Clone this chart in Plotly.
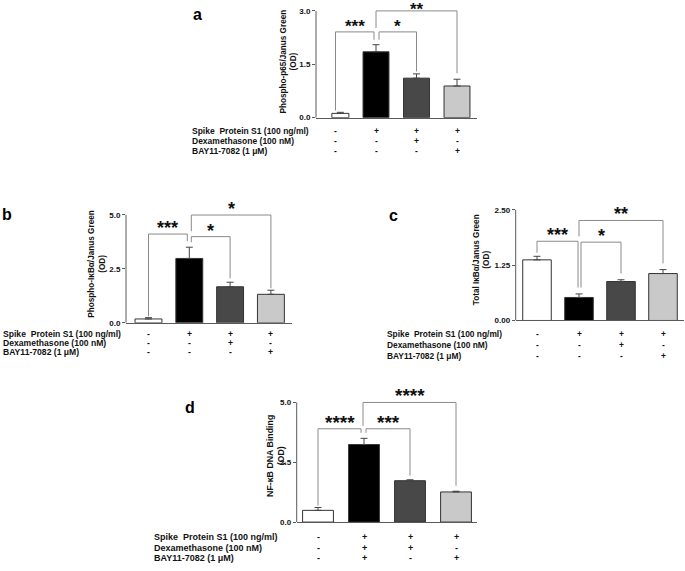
import plotly.graph_objects as go

W, H = 685, 571
FONT = "Liberation Sans, Arial, Helvetica, sans-serif"

# ---------------- data ----------------
groups = [0, 1, 2, 3]
row_labels = ["Spike\u00a0 Protein S1 (100 ng/ml)", "Dexamethasone (100 nM)", "BAY11-7082 (1 \u03bcM)"]

s1_signs = ["-", "+", "+", "+"]
dex_signs_abc = ["-", "-", "+", "-"]
bay_signs_abc = ["-", "-", "-", "+"]
dex_signs_d = ["-", "+", "+", "-"]
bay_signs_d = ["-", "+", "-", "+"]

a_mean = [0.12, 1.85, 1.11, 0.89]
a_sem = [0.03, 0.20, 0.12, 0.19]
b_mean = [0.18, 2.98, 1.67, 1.32]
b_sem = [0.06, 0.52, 0.21, 0.19]
c_mean = [1.37, 0.52, 0.88, 1.06]
c_sem = [0.08, 0.08, 0.04, 0.09]
d_mean = [0.49, 3.24, 1.73, 1.26]
d_sem = [0.12, 0.26, 0.04, 0.03]

a_ticks = [0, 1.5, 3.0]
a_ticktext = ["0.0", "1.5", "3.0"]
b_ticks = [0, 2.5, 5.0]
b_ticktext = ["0.0", "2.5", "5.0"]
c_ticks = [0, 1.25, 2.5]
c_ticktext = ["0.00", "1.25", "2.50"]
d_ticks = [0, 2.5, 5.0]
d_ticktext = ["0.0", "2.5", "5.0"]

# brackets: (i, j, level, leg_i_bottom, leg_j_bottom, label, dx_i_px, dx_j_px)
a_brackets = [(0, 1, 2.41, 0.20, 2.19, "***", 0, -2),
              (1, 2, 2.41, 2.19, 1.30, "*", 3, 0),
              (1, 3, 3.00, 2.52, 1.25, "**", 0, 0)]
b_brackets = [(0, 1, 4.11, 0.30, 3.78, "***", 0, -2),
              (1, 2, 3.99, 3.73, 2.06, "*", 2, 0),
              (1, 3, 4.99, 4.24, 1.60, "*", 2, 0)]
c_brackets = [(0, 1, 1.79, 1.53, 0.745, "***", 0, -1),
              (1, 2, 1.77, 0.745, 1.06, "*", 2, 0),
              (1, 3, 2.26, 1.90, 1.29, "**", 0, 0)]
d_brackets = [(0, 1, 3.90, 0.69, 3.73, "****", 0, -3),
              (1, 2, 3.90, 3.73, 1.94, "***", 2, 0),
              (1, 3, 5.00, 4.01, 1.52, "****", -1, 0)]

bar_colors = ["#ffffff", "#000000", "#484848", "#c9c9c9"]

panels = [
    dict(letter="a", mean=a_mean, sem=a_sem, ticks=a_ticks, ticktext=a_ticktext, br=a_brackets,
         dex=dex_signs_abc, bay=bay_signs_abc,
         ylabel="Phospho-p65/Janus Green<br>(OD)",
         ax0=316, ax1=477, y0=118.7, ytpx=11, c0=335.5, sp=40.5, domtop=0,
         widths=[0.42, 0.64, 0.64, 0.64], offsets=[-0.09, -0.32, -0.32, -0.32],
         lab=(197, 15), ylab=(289, 62), rowx=190, rows=[132, 142.7, 152.3], rowfs=8.5,
         ylfs=8.2, starfs=17),
    dict(letter="b", mean=b_mean, sem=b_sem, ticks=b_ticks, ticktext=b_ticktext, br=b_brackets,
         dex=dex_signs_abc, bay=bay_signs_abc,
         ylabel="Phospho-I\u03baB\u03b1/Janus Green<br>(OD)",
         ax0=126, ax1=291.7, y0=325.7, ytpx=216.7, c0=148.5, sp=40.8, domtop=195,
         widths=[0.66] * 4, offsets=[-0.33] * 4,
         lab=(7, 216), ylab=(97, 267), rowx=1, rows=[337, 346.5, 355.5], rowfs=8.6,
         ylfs=8.2, starfs=18),
    dict(letter="c", mean=c_mean, sem=c_sem, ticks=c_ticks, ticktext=c_ticktext, br=c_brackets,
         dex=dex_signs_abc, bay=bay_signs_abc,
         ylabel="Total I\u03baB\u03b1/Janus Green<br>(OD)",
         ax0=515.7, ax1=684, y0=323.3, ytpx=211.7, c0=537, sp=42, domtop=195,
         widths=[0.68] * 4, offsets=[-0.34] * 4,
         lab=(393, 217), ylab=(481.5, 262), rowx=385, rows=[336.7, 347.7, 359.3], rowfs=8.4,
         ylfs=8.2, starfs=18),
    dict(letter="d", mean=d_mean, sem=d_sem, ticks=d_ticks, ticktext=d_ticktext, br=d_brackets,
         dex=dex_signs_d, bay=bay_signs_d,
         ylabel="NF-\u03baB DNA Binding<br>(OD)",
         ax0=296.7, ax1=476.7, y0=526.7, ytpx=406, c0=318, sp=46, domtop=385,
         widths=[0.67] * 4, offsets=[-0.335] * 4,
         lab=(190, 411), ylab=(276, 460), rowx=151.7, rows=[541.7, 552.7, 563.3], rowfs=9.0,
         ylfs=8.8, starfs=19),
]

fig = go.Figure()
shapes = []
annotations = []
AXC = "#5a5a5a"
BRC = "#8a8a8a"


def px_x(v):
    return v / W


def px_y(v):
    return 1 - v / H


for k, p in enumerate(panels):
    sfx = "" if k == 0 else str(k + 1)
    xa, ya = "x" + sfx, "y" + sfx
    ytop = p["ticks"][-1]
    scale = (p["y0"] - p["ytpx"]) / ytop
    yr_top = (p["y0"] - p["domtop"]) / scale
    xr = [(p["ax0"] - p["c0"]) / p["sp"], (p["ax1"] - p["c0"]) / p["sp"]]

    fig.add_trace(go.Bar(
        x=groups, y=p["mean"], width=p["widths"], offset=p["offsets"],
        marker=dict(color=bar_colors, line=dict(color="#333333", width=1)),
        error_y=dict(type="data", array=p["sem"], arrayminus=[0] * 4, symmetric=False,
                     color="#444444", thickness=1, width=3.5),
        xaxis=xa, yaxis=ya, showlegend=False, hoverinfo="skip"))

    fig.layout["xaxis" + sfx] = dict(
        domain=[px_x(p["ax0"]), px_x(p["ax1"])], range=xr, anchor=ya,
        showline=True, linecolor=AXC, linewidth=1, showticklabels=False, ticks="",
        showgrid=False, zeroline=False, fixedrange=True)
    fig.layout["yaxis" + sfx] = dict(
        domain=[px_y(p["y0"]), px_y(p["domtop"])], range=[0, yr_top], anchor=xa,
        showline=False, ticks="outside", ticklen=3, tickwidth=1, tickcolor=AXC,
        tickvals=p["ticks"], ticktext=p["ticktext"],
        tickfont=dict(family=FONT, size=8, color="#111111", weight="bold"),
        showgrid=False, zeroline=False, fixedrange=True)

    # y axis line up to the top tick
    shapes.append(dict(type="line", xref=xa + " domain", yref=ya, x0=0, x1=0, y0=0, y1=ytop,
                       line=dict(color=AXC, width=1)))

    # significance brackets
    for (i, j, lvl, li, lj, lab, dxi, dxj) in p["br"]:
        xi = i + dxi / p["sp"]
        xj = j + dxj / p["sp"]
        shapes.append(dict(type="path", xref=xa, yref=ya,
                           path=f"M {xi},{li} L {xi},{lvl} L {xj},{lvl} L {xj},{lj}",
                           line=dict(color=BRC, width=1)))
        # keep the star text box inside the page
        line_px = p["y0"] - lvl * scale
        box_h = p["starfs"] * 1.15 + 2
        ysh = -6
        if line_px - ysh - box_h < 0:
            ysh = line_px - box_h
        annotations.append(dict(xref=xa, yref=ya, x=(xi + xj) / 2, y=lvl, text=lab,
                                showarrow=False, yanchor="bottom", xanchor="center", yshift=ysh,
                                font=dict(family=FONT, size=p["starfs"], color="#111111",
                                          weight="bold")))

    # panel letter
    annotations.append(dict(xref="paper", yref="paper", x=px_x(p["lab"][0]), y=px_y(p["lab"][1]),
                            text=p["letter"], showarrow=False, xanchor="center", yanchor="middle",
                            font=dict(family=FONT, size=16, color="#000000", weight="bold")))
    # y label
    annotations.append(dict(xref="paper", yref="paper", x=px_x(p["ylab"][0]), y=px_y(p["ylab"][1]),
                            text=p["ylabel"], textangle=-90, showarrow=False,
                            xanchor="center", yanchor="middle",
                            font=dict(family=FONT, size=p["ylfs"], color="#111111", weight="bold")))
    # treatment table
    rows_signs = [s1_signs, p["dex"], p["bay"]]
    for r, (lbl, ry) in enumerate(zip(row_labels, p["rows"])):
        annotations.append(dict(xref="paper", yref="paper", x=px_x(p["rowx"]), y=px_y(ry),
                                text=lbl, showarrow=False, xanchor="left", yanchor="middle",
                                font=dict(family=FONT, size=p["rowfs"], color="#111111",
                                          weight="bold")))
        for g, sgn in zip(groups, rows_signs[r]):
            annotations.append(dict(xref=xa, yref="paper", x=g, y=px_y(ry), text=sgn,
                                    showarrow=False, xanchor="center", yanchor="middle",
                                    font=dict(family=FONT, size=p["rowfs"], color="#111111",
                                              weight="bold")))

fig.update_layout(width=W, height=H, margin=dict(l=0, r=0, t=0, b=0),
                  paper_bgcolor="white", plot_bgcolor="white",
                  shapes=shapes, annotations=annotations, bargap=0)

fig.write_html("out.html", config={"displayModeBar": False, "staticPlot": True},
               post_script="document.body.style.margin='0';document.body.style.overflow='hidden';")
